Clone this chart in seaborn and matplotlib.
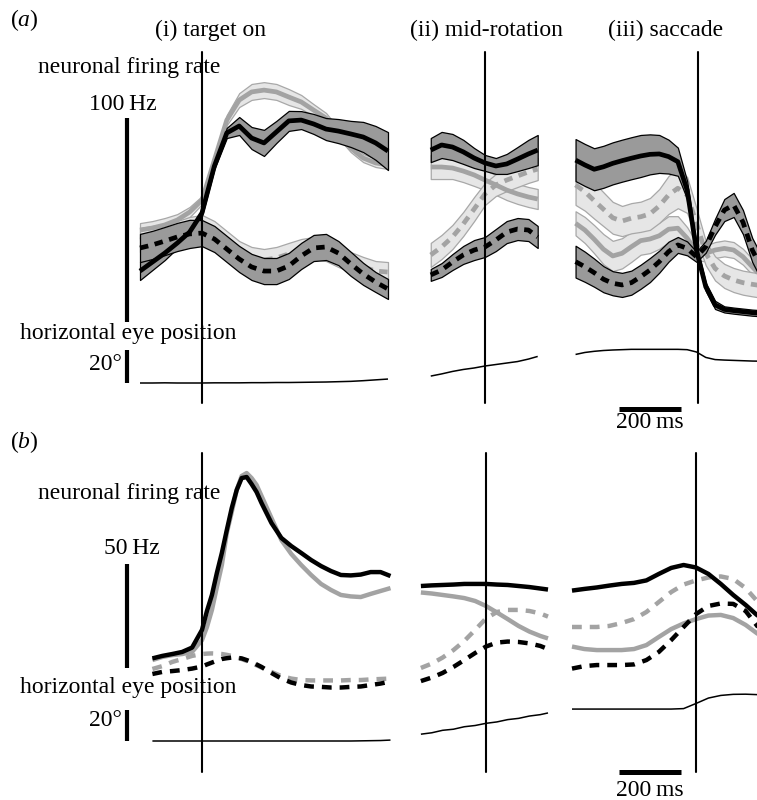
import numpy as np
import matplotlib.pyplot as plt
import seaborn as sns

# ---------------- data ----------------
# times in ms relative to the aligning event, rates in Hz, eye in degrees
# panel (a): mean +/- band for four conditions
T_A1 = np.arange(-200, 601, 40)
A1_BLACK = [28.9, 33.3, 37.7, 42.6, 48.0, 57.4, 80.4, 96.6, 100.0, 94.1, 91.7,
            97.1, 102.5, 102.9, 101.0, 98.5, 97.5, 96.1, 94.6, 91.7, 87.7]
A1_BLACK_SD = [4.4, 3.9, 3.4, 2.5, 2.0, 1.5, 1.5, 2.5, 4.4, 5.4, 6.4,
               5.4, 4.9, 4.4, 4.9, 5.4, 5.9, 6.4, 7.4, 8.3, 9.3]
A1_GRAY = [49.0, 50.0, 51.5, 53.9, 57.8, 63.7, 83.3, 102.9, 112.7, 116.7, 117.6,
           116.7, 114.2, 111.8, 107.8, 103.9, 96.6, 89.2, 84.3, 81.9, 80.9]
A1_GRAY_SD = [3.4, 3.4, 3.4, 2.9, 2.5, 2.0, 2.0, 2.5, 3.4, 3.9, 3.9,
              3.9, 3.9, 3.4, 2.9, 2.5, 2.5, 2.0, 2.0, 2.0, 2.0]
A1_BLACK_D = [40.2, 41.7, 43.6, 45.6, 47.1, 47.5, 44.6, 39.7, 34.8, 30.9, 28.9,
              28.9, 31.4, 36.3, 40.2, 40.7, 37.7, 32.4, 27.5, 23.5, 20.1]
A1_BLACK_D_SD = [6.9, 6.9, 6.9, 6.9, 6.9, 6.4, 6.4, 6.4, 6.4, 6.4, 6.4,
                 6.4, 6.4, 6.4, 6.4, 6.4, 5.9, 5.9, 5.4, 4.9, 4.9]
A1_GRAY_D = [44.1, 45.1, 46.6, 48.0, 50.0, 51.0, 48.0, 43.1, 38.2, 35.3, 34.3,
             35.3, 37.3, 39.2, 40.2, 39.2, 36.3, 33.3, 30.9, 28.9, 28.4]
A1_GRAY_D_SD = [5.9, 5.9, 5.4, 5.4, 5.4, 5.4, 5.4, 5.4, 5.4, 5.4, 5.4,
                5.4, 5.4, 5.4, 5.4, 5.4, 5.4, 4.9, 4.9, 4.9, 4.9]
A1_EYE = [0.0, 0.0, 0.1, 0.0, 0.0, 0.0, 0.1, 0.1, 0.1, 0.2, 0.2,
          0.3, 0.3, 0.4, 0.5, 0.6, 0.8, 1.0, 1.4, 1.9, 2.4]

T_A2 = [-175, -140, -105, -70, -35, 0, 35, 70, 105, 140, 170]
A2_BLACK = [88.2, 90.7, 89.7, 87.3, 84.3, 81.9, 80.4, 81.4, 83.8, 86.3, 88.2]
A2_BLACK_SD = [5.9, 6.4, 6.4, 5.9, 4.9, 3.9, 3.9, 4.9, 5.9, 6.9, 7.4]
A2_GRAY = [79.9, 79.9, 79.4, 77.9, 76.0, 73.5, 71.1, 68.6, 66.7, 65.2, 64.2]
A2_GRAY_SD = [5.9, 5.9, 5.4, 5.4, 5.4, 4.9, 4.9, 4.9, 4.9, 4.9, 4.9]
A2_GRAY_D = [36.8, 40.7, 45.6, 52.0, 59.3, 66.7, 71.1, 73.5, 75.5, 77.5, 78.9]
A2_GRAY_D_SD = [5.9, 5.9, 5.9, 5.9, 5.9, 5.4, 5.4, 5.4, 5.4, 5.4, 5.4]
A2_BLACK_D = [27.0, 29.4, 33.3, 36.8, 39.2, 40.7, 44.1, 48.0, 49.5, 49.0, 45.6]
A2_BLACK_D_SD = [2.9, 3.4, 3.9, 4.4, 4.9, 4.9, 5.4, 5.4, 5.4, 5.4, 5.4]
A2_EYE = [4.2, 5.5, 7.0, 8.2, 9.1, 10.3, 11.2, 12.1, 13.0, 14.5, 16.1]

T_A3 = np.arange(-395, 206, 30)
A3_BLACK = [83.3, 80.9, 78.8, 80.0, 81.7, 83.0, 84.2, 85.3, 86.1, 86.3, 85.0,
            82.5, 68.6, 39.2, 21.2, 12.3, 10.1, 9.5, 9.0, 8.5, 8.2]
A3_BLACK_SD = [10.3, 10.3, 10.3, 10.3, 10.3, 10.3, 10.3, 10.3, 9.8, 9.3, 8.3,
               6.9, 4.4, 2.5, 2.0, 2.0, 1.5, 1.5, 1.5, 1.5, 1.5]
A3_GRAY = [52.3, 49.0, 44.5, 39.6, 36.3, 37.6, 40.8, 43.8, 44.6, 46.2, 49.4,
           49.9, 45.0, 38.4, 37.6, 39.2, 40.0, 39.2, 35.9, 31.0, 26.1]
A3_GRAY_SD = [5.9, 6.4, 6.9, 7.4, 7.4, 7.4, 7.4, 6.9, 6.9, 6.4, 6.4,
              5.9, 5.4, 4.4, 3.9, 3.9, 3.9, 3.9, 3.9, 3.9, 3.9]
A3_GRAY_D = [71.1, 67.8, 63.4, 59.2, 55.0, 53.4, 54.8, 55.5, 56.9, 60.8, 66.2,
             69.5, 66.2, 52.3, 37.6, 30.2, 26.5, 24.5, 23.2, 22.4, 21.7]
A3_GRAY_D_SD = [9.8, 9.3, 8.8, 8.3, 7.8, 7.4, 7.4, 7.4, 7.8, 8.3, 9.3,
                9.8, 8.8, 7.4, 5.9, 5.9, 5.9, 5.9, 5.9, 5.9, 5.9]
A3_BLACK_D = [33.5, 31.0, 28.1, 24.9, 22.9, 22.1, 23.2, 26.1, 29.4, 33.5, 38.4,
              41.7, 40.0, 35.9, 40.8, 50.6, 58.8, 61.3, 52.9, 39.2, 30.4]
A3_BLACK_D_SD = [7.8, 7.4, 6.9, 6.4, 5.9, 5.9, 5.9, 5.9, 5.9, 5.4, 4.9,
                 3.9, 3.4, 2.5, 2.9, 3.9, 5.4, 5.9, 5.9, 5.9, 5.9]
A3_EYE = [17.3, 18.5, 19.2, 19.7, 20.0, 20.2, 20.4, 20.4, 20.4, 20.4, 20.4,
          20.4, 20.2, 18.8, 15.5, 14.2, 13.9, 13.7, 13.5, 13.3, 13.2]

# panel (b): model traces
T_B1 = [-160, -128, -96, -64, -32, 0, 16, 32, 48, 64, 80, 96, 112, 128, 144, 160, 176, 192,
        224, 256, 288, 320, 352, 384, 416, 448, 480, 512, 544, 576, 608]
B1_BLACK = [20.0, 21.2, 22.1, 23.1, 25.2, 33.7, 42.8, 50.5, 61.1, 70.7, 81.7, 92.3, 101.0,
            106.7, 107.2, 103.8, 100.0, 94.7, 85.1, 77.9, 74.0, 70.7, 67.3, 64.4, 62.0, 60.1,
            59.9, 60.3, 61.5, 61.5, 59.6]
B1_GRAY = [19.2, 20.7, 21.6, 22.1, 23.1, 28.8, 35.1, 43.3, 54.3, 64.9, 80.3, 90.4, 101.0,
           107.7, 109.1, 106.7, 103.4, 98.1, 87.5, 76.9, 70.2, 64.9, 60.1, 55.8, 52.9, 50.5,
           49.8, 49.5, 51.0, 52.4, 53.8]
B1_BLACK_D = [12.5, 13.5, 13.9, 14.4, 15.1, 16.1, 17.1, 18.0, 18.9, 19.7, 20.1, 20.4, 20.3,
              20.0, 19.2, 18.3, 17.1, 15.9, 13.0, 10.3, 8.4, 7.2, 6.5, 6.3, 6.0, 6.0,
              6.3, 6.5, 7.2, 7.9, 8.9]
B1_GRAY_D = [14.9, 16.3, 18.3, 19.7, 21.2, 22.1, 22.3, 22.4, 22.3, 22.1, 21.7, 21.2, 20.5,
             19.7, 18.8, 17.8, 16.7, 15.6, 13.5, 11.5, 10.3, 9.6, 9.4, 9.4, 9.4, 9.4,
             9.6, 9.6, 9.9, 10.1, 10.3]
B1_EYE = [0, 0, 0, 0, 0, 0, 0, 0, 0, 0, 0, 0, 0, 0, 0, 0, 0, 0,
          0, 0, 0, 0, 0, 0, 0, 0, 0, 0.1, 0.2, 0.3, 0.6]

T_B2 = [-210, -175, -140, -105, -70, -35, 0, 35, 70, 105, 140, 175, 200]
B2_BLACK = [54.8, 55.1, 55.3, 55.5, 55.8, 55.8, 55.8, 55.5, 55.3, 54.8, 54.3, 53.6, 53.1]
B2_GRAY = [51.7, 51.2, 50.5, 49.8, 49.0, 47.6, 45.2, 42.1, 38.9, 35.6, 32.9, 30.8, 29.6]
B2_GRAY_D = [15.4, 17.5, 20.4, 24.0, 28.4, 33.7, 39.2, 42.3, 43.3, 43.3, 42.8, 41.6, 40.1]
B2_BLACK_D = [9.1, 10.8, 13.0, 15.9, 19.2, 22.6, 25.7, 27.6, 28.1, 27.9, 27.2, 26.0, 24.5]
B2_EYE = [4.4, 5.3, 6.9, 7.6, 9.2, 10.0, 11.4, 12.3, 13.8, 14.6, 16.1, 17.0, 18.1]

T_B3 = np.arange(-400, 201, 40)
B3_BLACK = [52.6, 53.4, 54.1, 55.0, 55.8, 56.3, 57.5, 60.6, 63.5, 64.9, 63.7, 60.6, 55.8, 50.5, 45.7, 40.4]
B3_GRAY_D = [35.1, 35.1, 35.1, 35.6, 37.0, 38.9, 42.3, 47.1, 51.9, 55.5, 57.5, 58.9, 59.4, 58.2, 53.8, 47.1]
B3_GRAY = [25.7, 24.5, 24.0, 24.0, 24.0, 24.5, 26.4, 30.3, 34.1, 36.8, 38.9, 40.6, 40.9, 39.4, 36.1, 31.7]
B3_BLACK_D = [15.1, 16.3, 16.8, 16.8, 16.8, 17.1, 19.2, 23.1, 28.8, 35.1, 41.3, 45.2, 46.4, 46.2, 42.8, 35.1]
B3_EYE = [20.6, 20.6, 20.6, 20.6, 20.6, 20.6, 20.6, 20.6, 20.6, 20.9, 24.2, 27.7, 29.4, 30.1, 30.2, 29.9]

# ---------------- layout (pixels) ----------------
W, H = 757, 800
PX_MS = 0.31                      # 200 ms bar = 62 px
A_HZ, A_ZERO, A_DEG, A_EYE0 = 2.04, 330, 1.65, 383
B_HZ, B_ZERO, B_DEG, B_EYE0 = 2.08, 700, 1.55, 741

DARK, LIGHT, GREY, LEDGE = "#9a9a9a", "#e6e6e6", "#a3a3a3", "#a8a8a8"

sns.set_style("white")
plt.rcParams["font.family"] = ["Liberation Serif", "DejaVu Serif"]
plt.rcParams["text.color"] = "black"
plt.rcParams["mathtext.fontset"] = "custom"
plt.rcParams["mathtext.it"] = "Liberation Serif:italic"
plt.rcParams["mathtext.rm"] = "Liberation Serif"

fig = plt.figure(figsize=(W / 100, H / 100), dpi=100)


def seg_axes(x0, x1, ev, ytop, ybot, zero, ppu):
    ax = fig.add_axes([x0 / W, 1 - ybot / H, (x1 - x0) / W, (ybot - ytop) / H])
    ax.set_xlim((x0 - ev) / PX_MS, (x1 - ev) / PX_MS)
    ax.set_ylim((zero - ybot) / ppu, (zero - ytop) / ppu)
    ax.axis("off")
    return ax


def band(ax, t, m, sd, face, edge, z):
    m, sd = np.asarray(m), np.asarray(sd)
    ax.fill_between(t, m - sd, m + sd, facecolor=face, edgecolor=edge, lw=0.9,
                    joinstyle="round", zorder=z)


def trace(ax, t, m, color, dash, lw, z):
    ls = (0, dash) if dash else "-"
    sns.lineplot(x=t, y=m, ax=ax, color=color, lw=lw, linestyle=ls, errorbar=None,
                 solid_capstyle="butt", dash_capstyle="butt",
                 solid_joinstyle="round", dash_joinstyle="round", zorder=z)


SEGS_X = [(100, 395), (415, 556), (565, 757)]
A_EV = [202, 485, 698]
B_EV = [202, 486, 696]

a_data = [
    (T_A1, A1_GRAY, A1_GRAY_SD, A1_GRAY_D, A1_GRAY_D_SD, A1_BLACK, A1_BLACK_SD, A1_BLACK_D, A1_BLACK_D_SD, A1_EYE),
    (T_A2, A2_GRAY, A2_GRAY_SD, A2_GRAY_D, A2_GRAY_D_SD, A2_BLACK, A2_BLACK_SD, A2_BLACK_D, A2_BLACK_D_SD, A2_EYE),
    (T_A3, A3_GRAY, A3_GRAY_SD, A3_GRAY_D, A3_GRAY_D_SD, A3_BLACK, A3_BLACK_SD, A3_BLACK_D, A3_BLACK_D_SD, A3_EYE),
]
A_DASH = (1.8, 1.4)
for (x0, x1), ev, d in zip(SEGS_X, A_EV, a_data):
    t, g, gsd, gd, gdsd, b, bsd, bd, bdsd, eye = d
    ax = seg_axes(x0, x1, ev, 40, 415, A_ZERO, A_HZ)
    band(ax, t, g, gsd, LIGHT, LEDGE, 1)
    band(ax, t, gd, gdsd, LIGHT, LEDGE, 1)
    trace(ax, t, g, GREY, None, 3.4, 2)
    trace(ax, t, gd, GREY, A_DASH, 3.4, 2)
    band(ax, t, b, bsd, DARK, "black", 3)
    band(ax, t, bd, bdsd, DARK, "black", 3)
    trace(ax, t, b, "black", None, 3.4, 4)
    trace(ax, t, bd, "black", A_DASH, 3.4, 4)
    ax.axvline(0, ymin=(415 - 403) / 375, ymax=(415 - 52) / 375, color="black", lw=1.5, zorder=5)
    eax = seg_axes(x0, x1, ev, 40, 415, A_EYE0, A_DEG)
    trace(eax, t, eye, "black", None, 1.1, 3)

b_data = [
    (T_B1, B1_GRAY, B1_GRAY_D, B1_BLACK, B1_BLACK_D, B1_EYE),
    (T_B2, B2_GRAY, B2_GRAY_D, B2_BLACK, B2_BLACK_D, B2_EYE),
    (T_B3, B3_GRAY, B3_GRAY_D, B3_BLACK, B3_BLACK_D, B3_EYE),
]
B_DASH = (2.2, 1.8)
for (x0, x1), ev, d in zip(SEGS_X, B_EV, b_data):
    t, g, gd, b, bd, eye = d
    ax = seg_axes(x0, x1, ev, 445, 785, B_ZERO, B_HZ)
    trace(ax, t, g, GREY, None, 3.2, 2)
    trace(ax, t, gd, GREY, B_DASH, 3.2, 2)
    trace(ax, t, b, "black", None, 3.2, 4)
    trace(ax, t, bd, "black", B_DASH, 3.2, 4)
    ax.axvline(0, ymin=(785 - 772) / 340, ymax=(785 - 453) / 340, color="black", lw=1.5, zorder=5)
    eax = seg_axes(x0, x1, ev, 445, 785, B_EYE0, B_DEG)
    trace(eax, t, eye, "black", None, 1.1, 3)

# ---------------- scale bars and labels (pixel overlay) ----------------
ov = fig.add_axes([0, 0, 1, 1])
ov.set_xlim(0, W)
ov.set_ylim(H, 0)
ov.axis("off")

bar_kw = dict(color="black", solid_capstyle="butt")
ov.plot([127, 127], [322, 322 - 100 * A_HZ], lw=3.0, **bar_kw)
ov.plot([127, 127], [A_EYE0, A_EYE0 - 20 * A_DEG], lw=3.0, **bar_kw)
ov.plot([619, 619 + 200 * PX_MS], [409, 409], lw=3.6, **bar_kw)
ov.plot([127, 127], [668, 668 - 50 * B_HZ], lw=3.0, **bar_kw)
ov.plot([127, 127], [B_EYE0, B_EYE0 - 20 * B_DEG], lw=3.0, **bar_kw)
ov.plot([619, 619 + 200 * PX_MS], [772, 772], lw=3.6, **bar_kw)

FS = 17
labels = [
    ("($\\mathit{a}$)", 10, 20, "left"),
    ("(i) target on", 155, 30, "left"),
    ("(ii) mid-rotation", 410, 30, "left"),
    ("(iii) saccade", 608, 30, "left"),
    ("neuronal firing rate", 38, 67, "left"),
    ("100\u2009Hz", 157, 105, "right"),
    ("horizontal eye position", 20, 334, "left"),
    ("20°", 122, 364, "right"),
    ("200\u2009ms", 650, 422, "center"),
    ("($\\mathit{b}$)", 10, 442, "left"),
    ("neuronal firing rate", 38, 494, "left"),
    ("50\u2009Hz", 160, 548, "right"),
    ("horizontal eye position", 20, 688, "left"),
    ("20°", 122, 720, "right"),
    ("200\u2009ms", 650, 790, "center"),
]
for s, x, y, ha in labels:
    ov.text(x, y, s, fontsize=FS, ha=ha, va="center", color="black")

fig.savefig("out.png", dpi=100)
